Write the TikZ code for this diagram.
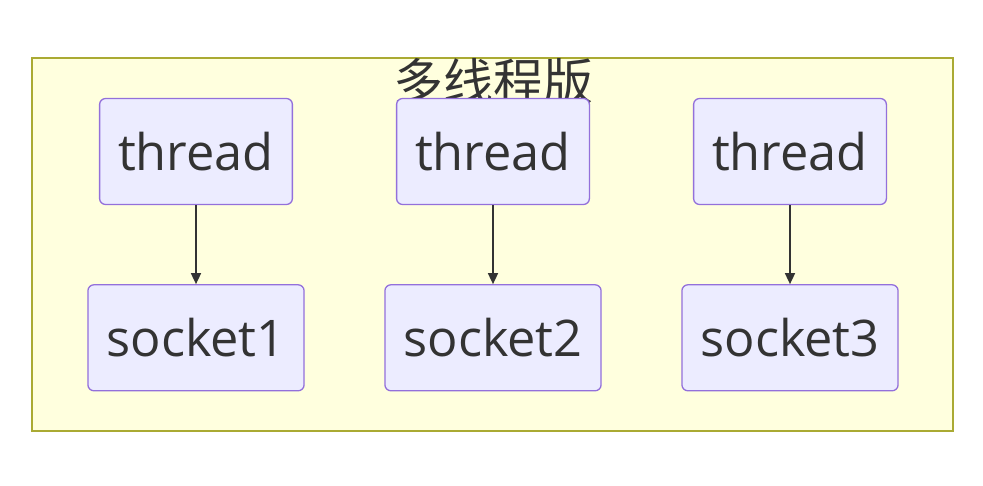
\documentclass[tikz,border=0pt]{standalone}
\usepackage{fontspec}
\setmainfont{Open Sans}
\newfontfamily\cjk{Noto Sans CJK SC}
\usetikzlibrary{positioning,arrows.meta}
\definecolor{clusterfill}{HTML}{FFFFDE}
\definecolor{clusterline}{HTML}{AAAA33}
\definecolor{boxfill}{HTML}{ECECFF}
\definecolor{boxline}{HTML}{9370DB}
\definecolor{textgray}{HTML}{333333}

\begin{document}
\begin{tikzpicture}
    [x=1pt,y=-1pt,>={Triangle[length=11pt,width=10pt]},
     nodebox/.style={draw=boxline,fill=boxfill,line width=1.3pt,rounded corners=6pt,
        text=textgray,font=\fontsize{50.5}{56}\selectfont,inner xsep=18.5pt,
        minimum height=106pt},
     conn/.style={draw=textgray,line width=1.6pt,->}]

    \useasboundingbox (0,0) rectangle (983,486);
    \fill[white] (0,0) rectangle (983,486);

    \draw[clusterline,fill=clusterfill,line width=1.3pt] (32,58) rectangle (953,431);
    \node[text=textgray,font=\cjk\fontsize{50}{56}\selectfont] (title) at (493,82) {多线程版};

    \node[nodebox] (thread1) at (196,151.5) {thread};
    \node[nodebox] (thread2) at (493,151.5) {thread};
    \node[nodebox] (thread3) at (790,151.5) {thread};

    \node[nodebox,below=79pt of thread1] (socket1) {socket1};
    \node[nodebox,below=79pt of thread2] (socket2) {socket2};
    \node[nodebox,below=79pt of thread3] (socket3) {socket3};

    \draw[conn] (thread1) -- (socket1);
    \draw[conn] (thread2) -- (socket2);
    \draw[conn] (thread3) -- (socket3);

\end{tikzpicture}
\end{document}
